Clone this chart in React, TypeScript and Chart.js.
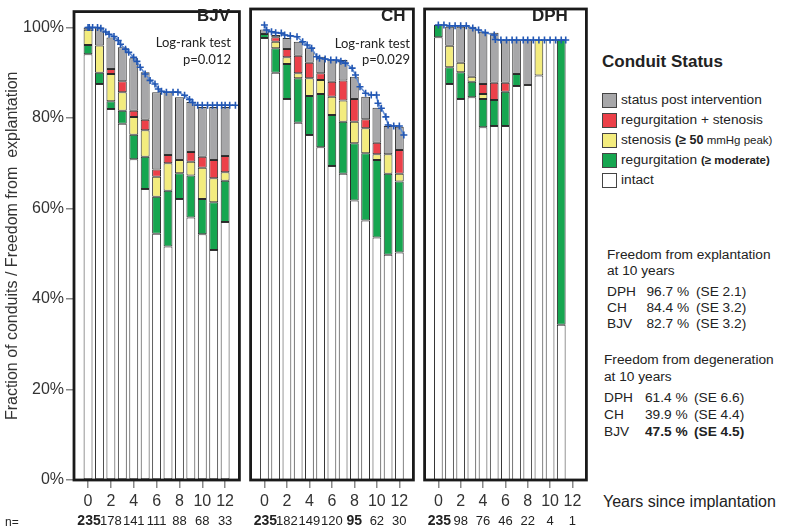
import React, { useEffect, useRef } from 'react';
import { Chart, registerables } from 'chart.js';
Chart.register(...registerables);

const FONT = '"Liberation Sans", Arial, Helvetica, sans-serif';
const YEARS = [0, 1, 2, 3, 4, 5, 6, 7, 8, 9, 10, 11, 12];
const X_TICKS = [0, 2, 4, 6, 8, 10, 12];
const AT_RISK_YEARS = [0, 2, 4, 6, 8, 10, 12];
const Y_TICKS = [0, 20, 40, 60, 80, 100];
const Y_TITLE = 'Fraction of conduits / Freedom from  explantation';

// ---- BJV ----
const bjvIntact = [94.1, 87.5, 82.0, 78.7, 70.9, 64.3, 54.4, 51.6, 62.1, 58.0, 54.3, 50.8, 57.0];
const bjvRegurg = [2.0, 2.5, 1.7, 2.9, 5.4, 7.1, 8.2, 12.3, 5.7, 9.3, 7.8, 10.6, 9.1];
const bjvStenosis = [3.4, 6.0, 6.0, 4.1, 3.9, 5.9, 4.4, 6.1, 2.9, 3.0, 6.9, 5.3, 1.9];
const bjvRegSten = [0, 0, 1.1, 2.4, 1.4, 2.3, 1.6, 1.8, 0, 2.2, 2.4, 4.0, 3.6];
const bjvPost = [0.5, 4.0, 7.0, 7.5, 11.6, 10.5, 17.1, 13.9, 13.9, 11.0, 11.0, 11.7, 10.8];
const bjvKmYears = [0, 0.11, 0.4, 0.83, 1.12, 1.55, 1.84, 2.27, 2.64, 2.84, 3.28, 3.56, 3.99, 4.28, 4.57, 5.0, 5.43, 5.86, 6.15, 6.43, 6.86, 7.44, 7.87, 8.45, 8.88, 9.16, 9.6, 10.0, 10.46, 10.9, 11.3, 11.7, 12.0, 12.4, 12.9];
const bjvKmPct = [100, 100, 100, 100, 99.8, 99.0, 98.5, 98.0, 97.1, 96.3, 95.2, 94.5, 93.4, 92.5, 91.2, 89.7, 88.3, 87.5, 86.4, 85.9, 85.7, 85.7, 85.7, 85.0, 84.1, 83.4, 82.8, 82.8, 82.8, 82.8, 82.8, 82.8, 82.8, 82.8, 82.8];
const bjvAtRisk = ['235', '178', '141', '111', '88', '68', '33'];
const bjvAtRiskBold = [true, false, false, false, false, false, false];

// ---- CH ----
const chIntact = [97.1, 89.5, 83.7, 78.5, 75.8, 73.1, 69.0, 67.3, 61.4, 57.0, 53.3, 49.5, 50.0];
const chRegurg = [0.9, 5.4, 7.7, 9.8, 8.6, 11.7, 11.2, 11.4, 12.6, 14.8, 17.0, 17.8, 15.6];
const chStenosis = [0, 1.4, 1.5, 1.1, 3.9, 3.1, 4.0, 4.7, 4.7, 5.5, 1.3, 4.3, 1.7];
const chRegSten = [0, 1.0, 1.8, 3.8, 3.4, 1.5, 3.3, 4.4, 5.0, 2.0, 2.5, 0, 5.2];
const chPost = [1.0, 0.5, 2.4, 3.1, 3.2, 3.6, 4.9, 4.5, 4.9, 4.9, 7.7, 6.2, 5.1];
const chKmYears = [0, 0.2, 0.63, 1.0, 1.5, 1.8, 2.3, 2.9, 3.4, 3.8, 4.2, 4.65, 4.9, 5.4, 5.9, 6.4, 6.8, 7.2, 7.8, 8.1, 8.5, 9.0, 9.5, 9.97, 10.1, 10.4, 10.8, 11.0, 11.5, 12.0, 12.4];
const chKmPct = [100, 98.9, 98.5, 98.3, 98.2, 97.8, 97.6, 97.4, 96.3, 95.6, 94.9, 93.0, 92.7, 92.5, 92.3, 92.3, 92.0, 91.6, 90.5, 89.0, 86.4, 85.0, 84.6, 84.6, 82.8, 81.7, 79.8, 78.0, 77.8, 77.8, 75.8];
const chAtRisk = ['235', '182', '149', '120', '95', '62', '30'];
const chAtRiskBold = [true, false, false, false, true, false, false];

// ---- DPH ----
const dphIntact = [97.3, 87.0, 83.7, 84.1, 77.5, 77.8, 77.8, 86.6, 86.8, 88.9, 96.7, 34.1];
const dphRegurg = [2.7, 3.7, 5.9, 3.4, 6.2, 5.7, 7.5, 2.6, 0, 0, 0, 62.6];
const dphStenosis = [0, 4.7, 2.1, 1.1, 1.1, 0, 0, 0, 0, 7.8, 0, 0];
const dphRegSten = [0, 0, 0, 0, 2.2, 3.8, 2.0, 0, 0, 0, 0, 0];
const dphPost = [0, 4.2, 7.9, 11.0, 11.5, 11.0, 9.4, 7.5, 9.9, 0, 0, 0];
const dphKmYears = [0, 0.5, 1.0, 1.5, 2.0, 2.5, 3.08, 3.6, 4.2, 5.0, 5.1, 5.6, 6.1, 6.6, 7.0, 7.6, 8.0, 8.5, 9.0, 9.5, 10.0, 10.5, 11.0, 11.4];
const dphKmPct = [100, 100, 99.8, 99.8, 99.8, 99.8, 99.3, 98.9, 98.3, 97.8, 96.8, 96.7, 96.7, 96.7, 96.7, 96.7, 96.7, 96.7, 96.7, 96.7, 96.7, 96.7, 96.7, 96.7];
const dphAtRisk = ['235', '98', '76', '46', '22', '4', '1'];
const dphAtRiskBold = [true, false, false, false, false, false, false];

// ---- legend / stats ----
const legendLabels = ['status post intervention', 'regurgitation + stenosis', 'stenosis', 'regurgitation', 'intact'];
const statGroups = ['DPH', 'CH', 'BJV'];
const explantPct = ['96.7 %', '84.4 %', '82.7 %'];
const explantSE = ['(SE 2.1)', '(SE 3.2)', '(SE 3.2)'];
const degenPct = ['61.4 %', '39.9 %', '47.5 %'];
const degenSE = ['(SE 6.6)', '(SE 4.4)', '(SE 4.5)'];

const COLORS = {
  intact: '#ffffff',
  regurg: '#16a650',
  stenosis: '#f3ec7e',
  regSten: '#ec4049',
  post: '#a7a7a9',
};

const Y_MAX = 103.5;
const X_MIN = -1.23;
const X_MAX = 13.25;

Chart.defaults.font.family = FONT;
Chart.defaults.color = '#333';

type PanelProps = {
  left: number;
  width: number;
  padLeft: number;
  padRight: number;
  showY: boolean;
  intact: number[];
  regurg: number[];
  stenosis: number[];
  regSten: number[];
  post: number[];
  kmYears: number[];
  kmPct: number[];
  atRisk: string[];
  atRiskBold: boolean[];
};

function Panel(p: PanelProps) {
  const ref = useRef<HTMLCanvasElement>(null);
  useEffect(() => {
    const seg = (label: string, vals: number[], color: string, border: string) => ({
      type: 'bar' as const,
      label,
      data: vals.map((v, i) => ({ x: YEARS[i], y: v })),
      backgroundColor: color,
      borderColor: border,
      borderWidth: 1,
      borderSkipped: false,
      barPercentage: 0.78,
      categoryPercentage: 1,
      order: 2,
      yAxisID: 'y',
    });
    const framePlugin = {
      id: 'frameAndRisk',
      afterDraw(chart: any) {
        const { ctx, chartArea } = chart;
        const xs = chart.scales.x;
        ctx.save();
        ctx.strokeStyle = '#1a1a1a';
        ctx.lineWidth = 2.8;
        ctx.strokeRect(chartArea.left, chartArea.top, chartArea.right - chartArea.left, chartArea.bottom - chartArea.top);
        ctx.fillStyle = '#222';
        ctx.textAlign = 'center';
        ctx.textBaseline = 'middle';
        AT_RISK_YEARS.forEach((yr, i) => {
          ctx.font = (p.atRiskBold[i] ? 'bold 14px ' : '13px ') + '"Liberation Sans Narrow", ' + FONT;
          ctx.fillText(p.atRisk[i], xs.getPixelForValue(yr) + (i === 0 ? 1 : 0), 521.5);
        });
        ctx.restore();
      },
    };
    const yScale: any = {
      display: p.showY,
      stacked: true,
      min: 0,
      max: Y_MAX,
      afterBuildTicks: (s: any) => {
        s.ticks = Y_TICKS.map((v) => ({ value: v }));
      },
      grid: { drawOnChartArea: false, drawTicks: true, tickLength: 8, color: '#8a8a8a', lineWidth: 1.5 },
      border: { display: false },
      ticks: {
        padding: 2,
        font: { size: 16 },
        color: '#333',
        callback: (v: any) => v + '%',
      },
      title: {
        display: p.showY,
        text: Y_TITLE,
        font: { size: 16 },
        color: '#333',
        padding: { top: 3, bottom: 0 },
      },
    };
    if (p.showY) {
      yScale.afterFit = (s: any) => {
        s.width = 74;
      };
    }
    const chart = new Chart(ref.current as HTMLCanvasElement, {
      type: 'bar',
      data: {
        datasets: [
          seg('intact', p.intact, COLORS.intact, '#333'),
          seg('regurgitation', p.regurg, COLORS.regurg, '#2a2a2a'),
          seg('stenosis', p.stenosis, COLORS.stenosis, '#2a2a2a'),
          seg('regurgitation + stenosis', p.regSten, COLORS.regSten, '#2a2a2a'),
          seg('status post intervention', p.post, COLORS.post, '#333'),
          {
            type: 'line',
            label: 'Freedom from explantation',
            data: p.kmYears.map((x, i) => ({ x, y: p.kmPct[i] })),
            yAxisID: 'y2',
            borderColor: '#5f8bd2',
            borderWidth: 1.5,
            pointStyle: 'cross',
            pointRadius: 3.5,
            pointBorderColor: '#2257b4',
            pointBackgroundColor: '#2257b4',
            pointBorderWidth: 1.6,
            fill: false,
            tension: 0,
            order: 0,
          } as any,
        ],
      },
      options: {
        animation: false,
        responsive: false,
        maintainAspectRatio: false,
        layout: { padding: { top: 9, left: p.padLeft, right: p.padRight, bottom: 0 } },
        plugins: { legend: { display: false }, tooltip: { enabled: false } },
        scales: {
          x: {
            type: 'linear',
            min: X_MIN,
            max: X_MAX,
            offset: false,
            stacked: true,
            afterBuildTicks: (s: any) => {
              s.ticks = X_TICKS.map((v) => ({ value: v }));
            },
            afterFit: (s: any) => {
              s.height = 47;
            },
            grid: { offset: false, drawOnChartArea: false, drawTicks: true, tickLength: 8, color: '#8a8a8a', lineWidth: 1.5 },
            border: { display: false },
            ticks: {
              autoSkip: false,
              maxRotation: 0,
              padding: 4,
              font: { size: 16 },
              color: '#333',
              callback: (v: any) => String(v),
            },
          },
          y: yScale,
          y2: { display: false, min: 0, max: Y_MAX },
        },
      } as any,
      plugins: [framePlugin],
    });
    return () => chart.destroy();
  }, []);
  return (
    <canvas
      ref={ref}
      width={p.width}
      height={527}
      style={{ position: 'absolute', left: p.left, top: 0, width: p.width, height: 527 }}
    />
  );
}

const T = ({ x, y, size, bold, children, style }: any) => (
  <div
    style={{
      position: 'absolute',
      left: x,
      top: y,
      fontSize: size,
      fontWeight: bold ? 700 : 400,
      lineHeight: 1,
      whiteSpace: 'nowrap',
      fontFamily: FONT,
      color: '#222',
      ...style,
    }}
  >
    {children}
  </div>
);

export default function App() {
  const legendColors = [COLORS.post, COLORS.regSten, COLORS.stenosis, COLORS.regurg, COLORS.intact];
  const legendCy = [100, 120, 140.5, 160, 180];
  const expRows = [291.7, 308.3, 323.8];
  const degRows = [398.3, 415, 431.7];
  return (
    <div style={{ position: 'absolute', left: 0, top: 0, width: 788, height: 527, background: '#fff', overflow: 'hidden' }}>
      <Panel left={0} width={245} padLeft={0} padRight={3} showY={true}
        intact={bjvIntact} regurg={bjvRegurg} stenosis={bjvStenosis} regSten={bjvRegSten} post={bjvPost}
        kmYears={bjvKmYears} kmPct={bjvKmPct} atRisk={bjvAtRisk} atRiskBold={bjvAtRiskBold} />
      <Panel left={245} width={174} padLeft={4} padRight={2} showY={false}
        intact={chIntact} regurg={chRegurg} stenosis={chStenosis} regSten={chRegSten} post={chPost}
        kmYears={chKmYears} kmPct={chKmPct} atRisk={chAtRisk} atRiskBold={chAtRiskBold} />
      <Panel left={419} width={173} padLeft={3} padRight={3} showY={false}
        intact={dphIntact} regurg={dphRegurg} stenosis={dphStenosis} regSten={dphRegSten} post={dphPost}
        kmYears={dphKmYears} kmPct={dphKmPct} atRisk={dphAtRisk} atRiskBold={dphAtRiskBold} />

      {/* panel titles */}
      <T x={197} y={6.6} size={17} bold>BJV</T>
      <T x={381} y={6.6} size={17} bold>CH</T>
      <T x={532} y={6.6} size={17} bold>DPH</T>

      {/* log-rank annotations */}
      <T x={131} y={36} size={13} style={{ width: 100, textAlign: 'right', fontFamily: 'Lato, "Open Sans", sans-serif' }}>Log-rank test</T>
      <T x={131} y={53.3} size={13} style={{ width: 100, textAlign: 'right', fontFamily: 'Lato, "Open Sans", sans-serif' }}>p=0.012</T>
      <T x={310} y={37} size={13} style={{ width: 100, textAlign: 'right', fontFamily: 'Lato, "Open Sans", sans-serif' }}>Log-rank test</T>
      <T x={310} y={53.3} size={13} style={{ width: 100, textAlign: 'right', fontFamily: 'Lato, "Open Sans", sans-serif' }}>p=0.029</T>

      {/* n= */}
      <T x={5} y={515.5} size={12}>n=</T>

      {/* x axis title */}
      <T x={603} y={493.7} size={16}>Years since implantation</T>

      {/* legend */}
      <T x={602} y={53.2} size={17} bold>Conduit Status</T>
      {legendLabels.map((lab, i) => (
        <React.Fragment key={lab}>
          <div
            style={{
              position: 'absolute',
              left: 602,
              top: legendCy[i] - 7.5,
              width: 13,
              height: 13,
              background: legendColors[i],
              border: '1px solid #444',
            }}
          />
          <T x={621} y={legendCy[i] - 7.3} size={13.7}>
            {lab}
            {i === 2 && (
              <>
                {' '}
                <b style={{ fontSize: 12.5 }}>(≥ 50</b>
                <span style={{ fontSize: 11.5 }}> mmHg peak)</span>
              </>
            )}
            {i === 3 && (
              <>
                {' '}
                <b style={{ fontSize: 11.5 }}>(≥ moderate)</b>
              </>
            )}
          </T>
        </React.Fragment>
      ))}

      {/* freedom from explantation */}
      <T x={607} y={248} size={13.7}>Freedom from explantation</T>
      <T x={607} y={263.7} size={13.7}>at 10 years</T>
      {statGroups.map((g, i) => (
        <React.Fragment key={'e' + g}>
          <T x={607} y={expRows[i] - 7} size={13.7}>{g}</T>
          <T x={646.5} y={expRows[i] - 7} size={13.7}>{explantPct[i]}</T>
          <T x={696} y={expRows[i] - 7} size={13.7}>{explantSE[i]}</T>
        </React.Fragment>
      ))}

      {/* freedom from degeneration */}
      <T x={604} y={353} size={13.7}>Freedom from degeneration</T>
      <T x={604} y={369.7} size={13.7}>at 10 years</T>
      {statGroups.map((g, i) => (
        <React.Fragment key={'d' + g}>
          <T x={604} y={degRows[i] - 7} size={13.7}>{g}</T>
          <T x={645} y={degRows[i] - 7} size={13.7} bold={i === 2}>{degenPct[i]}</T>
          <T x={694} y={degRows[i] - 7} size={13.7} bold={i === 2}>{degenSE[i]}</T>
        </React.Fragment>
      ))}
    </div>
  );
}
